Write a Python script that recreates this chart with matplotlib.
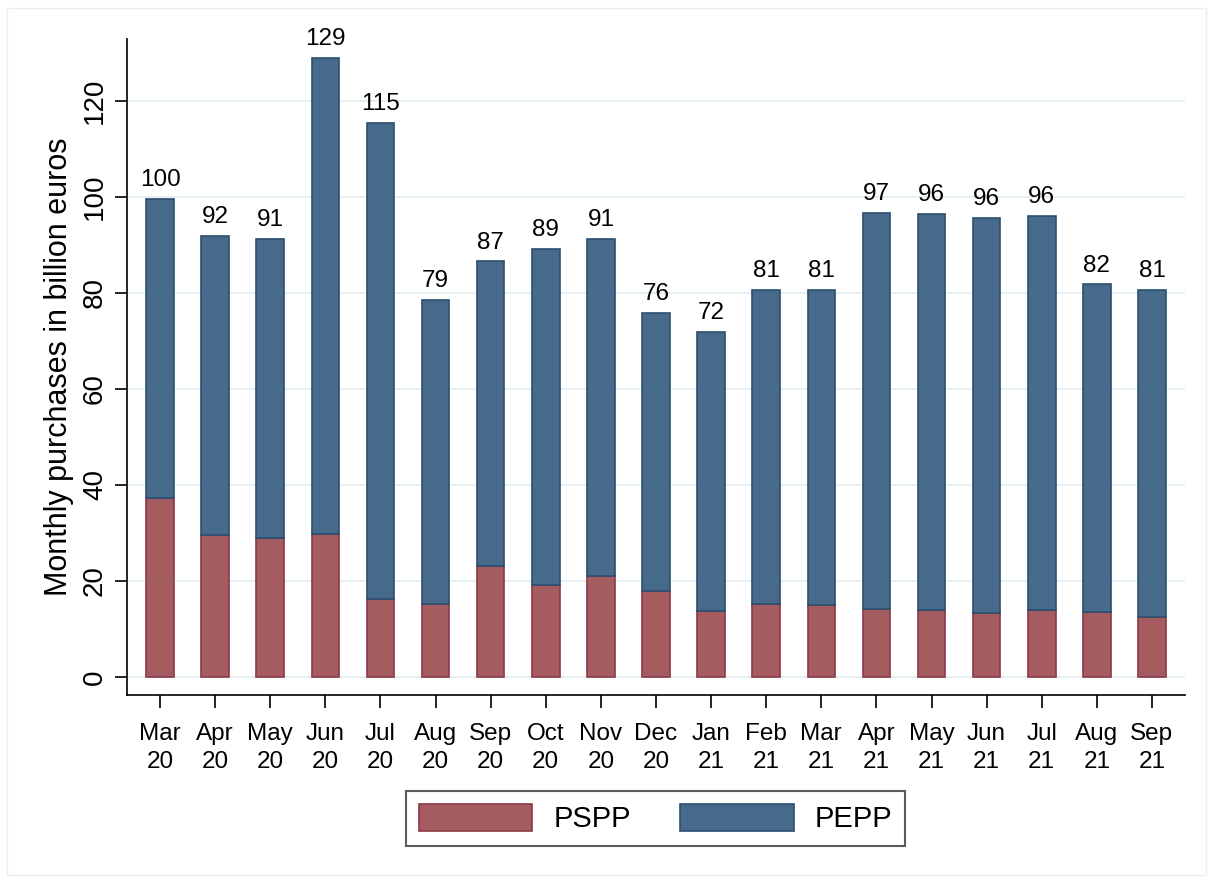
import numpy as np
import matplotlib
matplotlib.use('Agg')
import matplotlib.pyplot as plt
from matplotlib.patches import Rectangle

plt.rcParams['font.family'] = ['Liberation Sans', 'DejaVu Sans']

months = ['Mar\n20', 'Apr\n20', 'May\n20', 'Jun\n20', 'Jul\n20', 'Aug\n20', 'Sep\n20',
          'Oct\n20', 'Nov\n20', 'Dec\n20', 'Jan\n21', 'Feb\n21', 'Mar\n21', 'Apr\n21',
          'May\n21', 'Jun\n21', 'Jul\n21', 'Aug\n21', 'Sep\n21']
pspp = [37.3, 29.6, 29.0, 29.8, 16.3, 15.2, 23.1, 19.2, 21.0, 17.9,
        13.7, 15.2, 15.0, 14.2, 14.0, 13.3, 14.0, 13.5, 12.5]
total = [99.6, 91.9, 91.3, 129.0, 115.4, 78.6, 86.6, 89.2, 91.3, 75.8,
         71.9, 80.7, 80.6, 96.7, 96.5, 95.6, 96.0, 81.8, 80.6]
pepp = [t - p for t, p in zip(total, pspp)]

RED, RED_EDGE = '#a45c60', '#8a3a45'
BLUE, BLUE_EDGE = '#486a8a', '#2a4f70'

fig = plt.figure(figsize=(12.13, 8.83), dpi=100)
ax = fig.add_axes([127/1213, 1 - 695/883, (1185 - 127)/1213, (695 - 39)/883])

x = np.arange(len(months))
ax.bar(x, pspp, width=0.5, color=RED, edgecolor=RED_EDGE, linewidth=1.2, label='PSPP', zorder=3)
ax.bar(x, pepp, width=0.5, bottom=pspp, color=BLUE, edgecolor=BLUE_EDGE, linewidth=1.2,
       label='PEPP', zorder=3)

for xi, t in zip(x, total):
    ax.text(xi, t + 1.6, f'{round(t):d}', ha='center', va='bottom', fontsize=17.5)

ax.set_xlim(-0.6, len(months) - 0.4)
ax.set_ylim(-3.75, 132.9)
ax.set_yticks(range(0, 121, 20))
ax.set_xticks(x)
ax.set_xticklabels(months, fontsize=17.5, linespacing=1.3)
ax.tick_params(axis='y', labelsize=20, length=8.6, width=1.2, labelrotation=90, pad=5)
ax.tick_params(axis='x', length=9.5, width=1.2, pad=11)
for lab in ax.get_yticklabels():
    lab.set_va('center')

ax.grid(axis='y', color='#e6eff1', linewidth=1.5, zorder=0)
ax.spines['top'].set_visible(False)
ax.spines['right'].set_visible(False)
ax.spines['left'].set_linewidth(1.2)
ax.spines['bottom'].set_linewidth(1.2)
ax.set_ylabel('Monthly purchases in billion euros', fontsize=22, labelpad=6)

leg = fig.legend(loc='center', bbox_to_anchor=(655.5/1213, 1 - 818.5/883), ncol=2,
                 fontsize=21, frameon=True, fancybox=False, edgecolor='#333333',
                 handlelength=3.9, handleheight=1.03, columnspacing=1.68, handletextpad=0.72,
                 borderpad=0.45, borderaxespad=0)
leg.get_frame().set_linewidth(1.5)

fig.patches.append(Rectangle((7/1213, 8/883), 1199/1213, 867/883, transform=fig.transFigure,
                             fill=False, edgecolor='#eeeeee', linewidth=1))

fig.savefig('out.png', dpi=100)
